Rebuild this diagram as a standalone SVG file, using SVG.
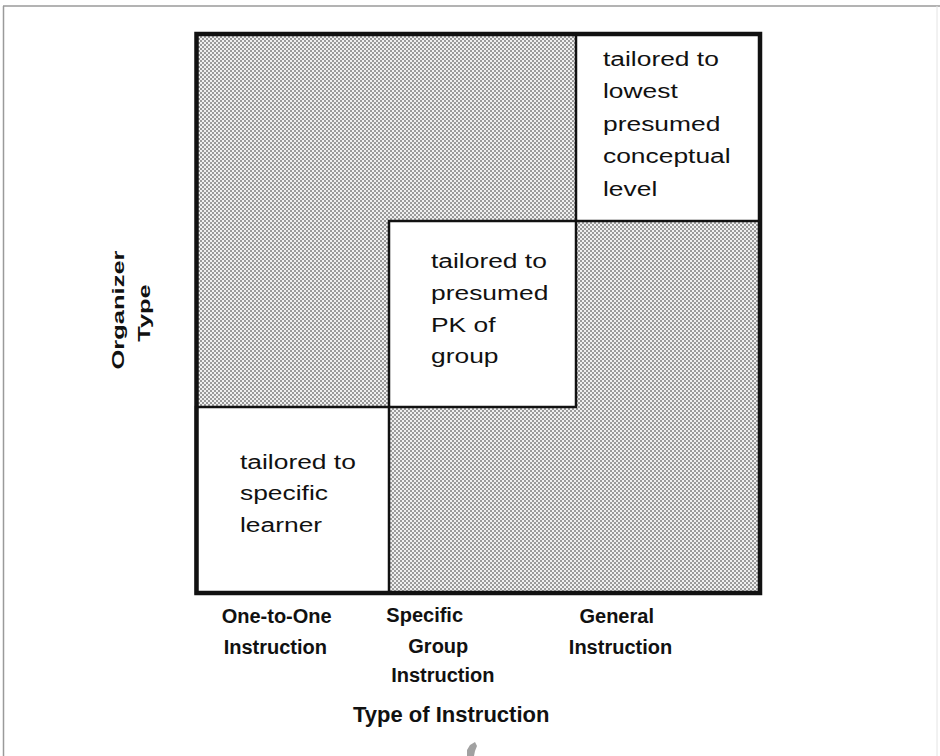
<svg xmlns="http://www.w3.org/2000/svg" width="940" height="756" viewBox="0 0 940 756">
<style>
  .cell { font-family: "Liberation Sans", Arial, sans-serif; font-size: 20px; fill: #111; }
  .lab { font-family: "Liberation Sans", Arial, sans-serif; font-size: 20px; font-weight: bold; fill: #111; text-anchor: middle; }
  .vlab { font-family: "Liberation Sans", Arial, sans-serif; font-size: 17px; font-weight: bold; fill: #111; text-anchor: middle; }
  .box { fill: #fff; stroke: #111; stroke-width: 2.5; }
</style>
<defs>
  <pattern id="dots" width="4" height="4" patternUnits="userSpaceOnUse">
    <rect width="4" height="4" fill="#f0f0f0"/>
    <rect x="0" y="0" width="2" height="2" fill="#9a9a9a"/>
    <rect x="2" y="2" width="2" height="2" fill="#9a9a9a"/>
  </pattern>
</defs>
<rect width="940" height="756" fill="#fff"/>
<g id="page-border" fill="none" stroke="#9a9a9a" stroke-width="1.5">
  <line x1="3" y1="6" x2="940" y2="6"/>
  <line x1="3.5" y1="6" x2="3.5" y2="756"/>
  <line x1="937" y1="6" x2="937" y2="756" stroke="#e4e4e4" stroke-width="1"/>
</g>
<g id="matrix">
  <rect x="196" y="34" width="564" height="559" fill="url(#dots)"/>
</g>
<g id="cell-general">
  <rect class="box" x="576" y="34" width="184" height="187"/>
  <g transform="translate(603,0) scale(1.32,1)">
    <text class="cell" x="0" y="66">tailored to</text>
    <text class="cell" x="0" y="98.5">lowest</text>
    <text class="cell" x="0" y="131">presumed</text>
    <text class="cell" x="0" y="163.5">conceptual</text>
    <text class="cell" x="0" y="196">level</text>
  </g>
</g>
<g id="cell-group">
  <rect class="box" x="389" y="221" width="187" height="186"/>
  <g transform="translate(431,0) scale(1.32,1)">
    <text class="cell" x="0" y="268">tailored to</text>
    <text class="cell" x="0" y="300">presumed</text>
    <text class="cell" x="0" y="332">PK of</text>
    <text class="cell" x="0" y="363.5">group</text>
  </g>
</g>
<g id="cell-one-to-one">
  <rect class="box" x="196" y="407" width="193" height="186"/>
  <g transform="translate(240,0) scale(1.32,1)">
    <text class="cell" x="0" y="469">tailored to</text>
    <text class="cell" x="0" y="500.5">specific</text>
    <text class="cell" x="0" y="532">learner</text>
  </g>
</g>
<g id="frame">
  <rect x="196.5" y="34" width="563.5" height="559" fill="none" stroke="#111" stroke-width="4.5"/>
</g>
<g id="axis-y">
  <text class="vlab" transform="translate(124,310) rotate(-90) scale(1.5,1)">Organizer</text>
  <text class="vlab" transform="translate(150,313) rotate(-90) scale(1.5,1)">Type</text>
</g>
<g id="axis-x">
  <text class="lab" x="276.7" y="622.7">One-to-One</text>
  <text class="lab" x="275.3" y="654">Instruction</text>
  <text class="lab" x="424.7" y="622">Specific</text>
  <text class="lab" x="438.3" y="653">Group</text>
  <text class="lab" x="442.8" y="682">Instruction</text>
  <text class="lab" x="616.7" y="622.7">General</text>
  <text class="lab" x="620.5" y="654">Instruction</text>
  <text class="lab" x="451.2" y="722" style="font-size:22px">Type of Instruction</text>
</g>
<g id="smudge">
  <path d="M467 756 L467 750 L470 745 L475 742 L477 746 L475 751 L474 756 Z" fill="#8a8a8a" opacity="0.8"/>
</g>
</svg>
